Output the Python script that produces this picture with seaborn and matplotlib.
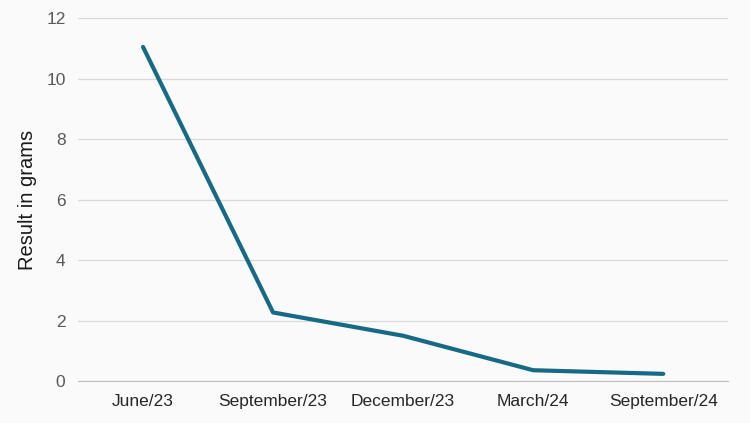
import pandas as pd
import matplotlib.pyplot as plt
import seaborn as sns
import numpy as np

# Data
periods = ["June/23", "September/23", "December/23", "March/24", "September/24"]
results = [11.05, 2.27, 1.50, 0.36, 0.24]

df = pd.DataFrame({"Period": periods, "Result": results})

sns.set_style("white")
plt.rcParams['font.family'] = ['Liberation Sans', 'DejaVu Sans']

fig = plt.figure(figsize=(7.5, 4.23), dpi=100, facecolor="#fafafa")
ax = fig.add_axes([0.104, 0.099, 0.867, 0.858])
ax.set_facecolor("#fafafa")

sns.lineplot(data=df, x="Period", y="Result", sort=False, color="#176a85",
             linewidth=3.0, ax=ax)

ax.set_xlim(-0.5, len(periods) - 0.5)
ax.set_ylim(0, 12)
ax.set_yticks(np.arange(0, 13, 2))
ax.yaxis.grid(True, color="#d9d9d9", linewidth=0.9)
ax.set_axisbelow(True)

# category boundary ticks on the x axis
ax.set_xticks(np.arange(-0.5, len(periods)), minor=True)
ax.tick_params(axis="x", which="minor", length=5, color="#bfbfbf", width=0.8)
ax.tick_params(axis="x", which="major", length=0, labelsize=12.5, labelcolor="#262626", pad=9)
ax.tick_params(axis="y", length=0, labelsize=12.5, labelcolor="#595959", pad=9)

for s in ["top", "right", "left"]:
    ax.spines[s].set_visible(False)
ax.spines["bottom"].set_color("#bfbfbf")
ax.spines["bottom"].set_linewidth(0.8)

ax.set_xlabel("")
ax.set_ylabel("Result in grams", fontsize=14.5, color="#1a1a1a")
ax.yaxis.set_label_coords(-0.063, 0.5)

plt.savefig("out.png", dpi=100, facecolor=fig.get_facecolor())
